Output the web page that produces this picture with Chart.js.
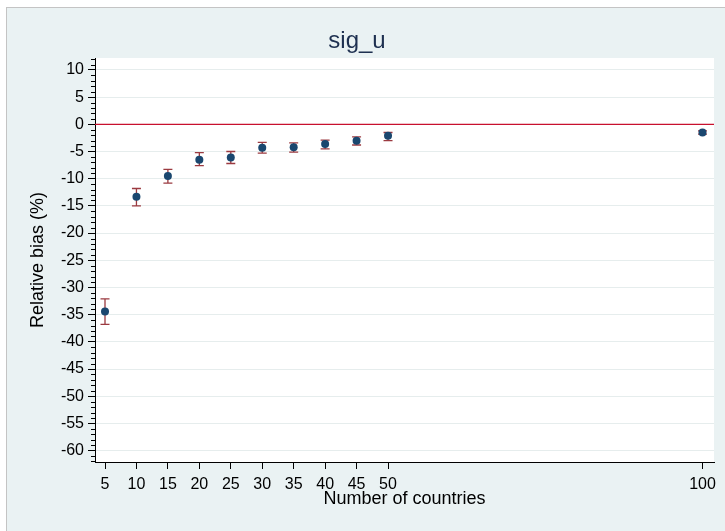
<!DOCTYPE html>
<html>
<head>
<meta charset="utf-8">
<script src="https://cdn.jsdelivr.net/npm/chart.js@4.4.0/dist/chart.umd.min.js"></script>
<style>
html,body{margin:0;padding:0;background:#ffffff;}
#wrap{position:relative;width:725px;height:531px;overflow:hidden;}
#frame{position:absolute;left:6px;top:7px;width:725px;height:531px;background:#eaf2f3;border-left:1px solid #c4c4c4;border-top:1px solid #c4c4c4;}
canvas{position:absolute;left:0;top:0;}
</style>
</head>
<body>
<div id="wrap"><div id="frame"></div><canvas id="c" width="725" height="531"></canvas></div>
<script>
// ---- data ----
const titleText = 'sig_u';
const xTitle = 'Number of countries';
const yTitle = 'Relative bias (%)';
const countries = [5, 10, 15, 20, 25, 30, 35, 40, 45, 50, 100];
const bias      = [-34.4, -13.3, -9.5, -6.5, -6.1, -4.3, -4.2, -3.6, -3.0, -2.1, -1.5];
const lower     = [-36.8, -15.0, -10.8, -7.6, -7.2, -5.3, -5.1, -4.5, -3.8, -3.0, -1.8];
const upper     = [-32.1, -11.8, -8.3, -5.2, -5.0, -3.3, -3.4, -2.9, -2.3, -1.5, -1.2];
const xTicks = [5, 10, 15, 20, 25, 30, 35, 40, 45, 50, 100];
const yTicks = [10, 5, 0, -5, -10, -15, -20, -25, -30, -35, -40, -45, -50, -55, -60];
const refLine = 0;

const FONT = "'Liberation Sans', Arial, Helvetica, sans-serif";

const decor = {
  id: 'decor',
  beforeDraw(chart) {
    const {ctx, chartArea: a} = chart;
    ctx.save();
    ctx.fillStyle = '#ffffff';
    ctx.fillRect(a.left, a.top, a.right - a.left, a.bottom - a.top);
    ctx.restore();
  },
  beforeDatasetsDraw(chart) {
    const {ctx, chartArea: a, scales: {x, y}} = chart;
    ctx.save();
    // reference line
    const y0 = y.getPixelForValue(refLine);
    ctx.strokeStyle = '#c8102e';
    ctx.lineWidth = 1.3;
    ctx.beginPath();
    ctx.moveTo(a.left, y0);
    ctx.lineTo(a.right, y0);
    ctx.stroke();
    // error bars
    ctx.strokeStyle = '#9b3a40';
    ctx.lineWidth = 1.3;
    const cap = 4.5;
    countries.forEach((c, i) => {
      const px = x.getPixelForValue(c);
      const pl = y.getPixelForValue(lower[i]);
      const pu = y.getPixelForValue(upper[i]);
      ctx.beginPath();
      ctx.moveTo(px, pl); ctx.lineTo(px, pu);
      ctx.moveTo(px - cap, pl); ctx.lineTo(px + cap, pl);
      ctx.moveTo(px - cap, pu); ctx.lineTo(px + cap, pu);
      ctx.stroke();
    });
    ctx.restore();
  },
  afterDraw(chart) {
    const {ctx, chartArea: a, scales: {y}} = chart;
    ctx.save();
    ctx.strokeStyle = '#000000';
    ctx.lineWidth = 1;
    const lo = Math.ceil(y.min), hi = Math.floor(y.max);
    ctx.beginPath();
    for (let v = lo; v <= hi; v++) {
      if (v % 5 === 0) continue;
      const py = Math.round(y.getPixelForValue(v)) + 0.5;
      ctx.moveTo(a.left - 4, py);
      ctx.lineTo(a.left, py);
    }
    ctx.stroke();
    ctx.restore();
  }
};

new Chart(document.getElementById('c'), {
  type: 'scatter',
  data: {
    datasets: [{
      data: countries.map((c, i) => ({x: c, y: bias[i]})),
      backgroundColor: '#1a476f',
      borderColor: '#1a476f',
      pointRadius: 4,
      pointHoverRadius: 4,
      borderWidth: 0
    }]
  },
  options: {
    responsive: false,
    animation: false,
    events: [],
    layout: {padding: {left: 0, right: 11, top: 0, bottom: 0}},
    plugins: {
      legend: {display: false},
      tooltip: {enabled: false},
      title: {
        display: true,
        text: titleText,
        color: '#1e3050',
        font: {family: FONT, size: 24, weight: 'normal', lineHeight: 1.2},
        padding: {top: 26.6, bottom: 2.6}
      }
    },
    scales: {
      x: {
        type: 'linear',
        min: 3.41,
        max: 101.83,
        afterBuildTicks(s) { s.ticks = xTicks.map(v => ({value: v})); },
        afterFit(s) { s.height = 69; },
        grid: {drawOnChartArea: false, drawTicks: true, tickLength: 7, tickColor: '#000000'},
        border: {display: true, color: '#000000', width: 1},
        ticks: {
          padding: 6, color: '#000000', autoSkip: false, maxRotation: 0,
          font: {family: FONT, size: 16},
          callback: v => String(v)
        },
        title: {
          display: true, text: xTitle, color: '#000000',
          font: {family: FONT, size: 18, lineHeight: 1.2},
          padding: {top: 0, bottom: 21.4}
        }
      },
      y: {
        type: 'linear',
        min: -62.1,
        max: 12.2,
        afterBuildTicks(s) { s.ticks = yTicks.map(v => ({value: v})); },
        afterFit(s) { s.width = 95; },
        grid: {drawOnChartArea: true, color: '#e6eded', lineWidth: 1, drawTicks: true, tickLength: 7, tickColor: '#000000'},
        border: {display: true, color: '#000000', width: 1},
        ticks: {
          padding: 4, color: '#000000', autoSkip: false,
          font: {family: FONT, size: 16},
          callback: v => String(v)
        },
        title: {
          display: true, text: yTitle, color: '#000000',
          font: {family: FONT, size: 18, lineHeight: 1.2},
          padding: {top: 27, bottom: 0}
        }
      }
    }
  },
  plugins: [decor]
});
</script>
</body>
</html>
